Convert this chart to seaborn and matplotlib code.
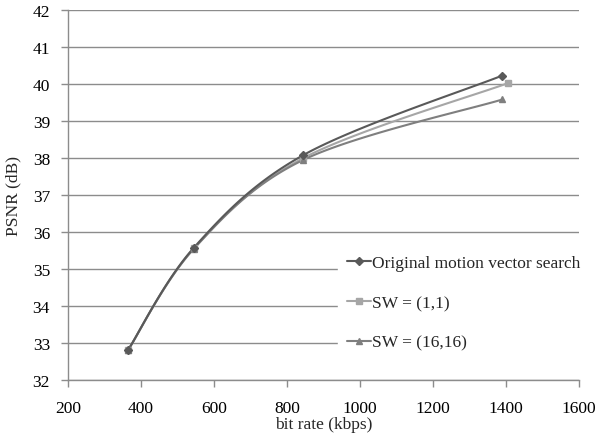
import numpy as np
import pandas as pd
import matplotlib
matplotlib.use("Agg")
import matplotlib.pyplot as plt
import seaborn as sns
from matplotlib.lines import Line2D

sns.set_theme(style="white")
plt.rcParams['font.family'] = ['Liberation Serif', 'DejaVu Serif']

series_names = ["Original motion vector search", "SW = (1,1)", "SW = (16,16)"]
x_orig = [365, 545, 845, 1388]
y_orig = [32.82, 35.58, 38.08, 40.22]
x_sw11 = [365, 545, 845, 1405]
y_sw11 = [32.82, 35.56, 38.00, 40.02]
x_sw16 = [365, 545, 845, 1390]
y_sw16 = [32.82, 35.55, 37.95, 39.58]

colors = ["#595959", "#a6a6a6", "#7f7f7f"]
markers = ["D", "s", "^"]
msizes = [4, 5, 5]


def smooth(xs, ys, n=40):
    P = np.column_stack([xs, ys]).astype(float)
    m = len(P)
    out = []
    for i in range(m - 1):
        p0 = P[i - 1] if i > 0 else P[i]
        p1 = P[i]
        p2 = P[i + 1]
        p3 = P[i + 2] if i + 2 < m else P[i + 1]
        c1 = p1 + (p2 - p0) / 6.0
        c2 = p2 - (p3 - p1) / 6.0
        t = np.linspace(0, 1, n)[:, None]
        seg = ((1 - t) ** 3) * p1 + 3 * ((1 - t) ** 2) * t * c1 + 3 * (1 - t) * t ** 2 * c2 + t ** 3 * p2
        out.append(seg if i == 0 else seg[1:])
    S = np.vstack(out)
    return S[:, 0], S[:, 1]


fig = plt.figure(figsize=(5.97, 4.35), dpi=100)
ax = fig.add_axes([0.114, 0.124, 0.856, 0.851])

data = [(x_orig, y_orig), (x_sw11, y_sw11), (x_sw16, y_sw16)]
for idx in [1, 2, 0]:
    xs, ys = data[idx]
    sx, sy = smooth(xs, ys)
    df = pd.DataFrame({"x": sx, "y": sy})
    sns.lineplot(data=df, x="x", y="y", ax=ax, sort=False, color=colors[idx],
                 linewidth=1.5, estimator=None, zorder=3)
    ax.plot(xs, ys, linestyle="none", marker=markers[idx], markersize=msizes[idx],
            color=colors[idx], markeredgecolor=colors[idx], zorder=4)

ax.set_xlim(200, 1600)
ax.set_ylim(32, 42)
ax.set_xticks(np.arange(200, 1601, 200))
ax.set_yticks(np.arange(32, 43, 1))
ax.grid(axis="y", color="#8c8c8c", linewidth=1.0)
ax.grid(axis="x", visible=False)
for s in ["top", "right"]:
    ax.spines[s].set_visible(False)
for s in ["left", "bottom"]:
    ax.spines[s].set_color("#8c8c8c")
    ax.spines[s].set_linewidth(1.0)
ax.tick_params(axis="both", which="major", direction="out", length=5, width=1,
               color="#8c8c8c", labelsize=12.5, labelcolor="black", left=True, bottom=True)
ax.tick_params(axis="x", pad=9)
ax.tick_params(axis="y", pad=8)
ax.set_xlabel("bit rate (kbps)", fontsize=12.5, labelpad=0)
ax.set_ylabel("PSNR (dB)", fontsize=12.5, labelpad=8)

handles = [Line2D([0], [0], color=colors[i], marker=markers[i], markersize=msizes[i],
                  linewidth=1.5) for i in range(3)]
leg = fig.legend(handles, series_names, loc="center left",
                 bbox_to_anchor=(338 / 597, 1 - 304 / 435), frameon=True,
                 fontsize=12.5, handlelength=1.4, handletextpad=0.05,
                 labelspacing=1.35, borderpad=0.5, borderaxespad=0, fancybox=False)
leg.get_frame().set_facecolor("white")
leg.get_frame().set_edgecolor("white")
leg.get_frame().set_alpha(1.0)

fig.savefig("out.png", dpi=100)
